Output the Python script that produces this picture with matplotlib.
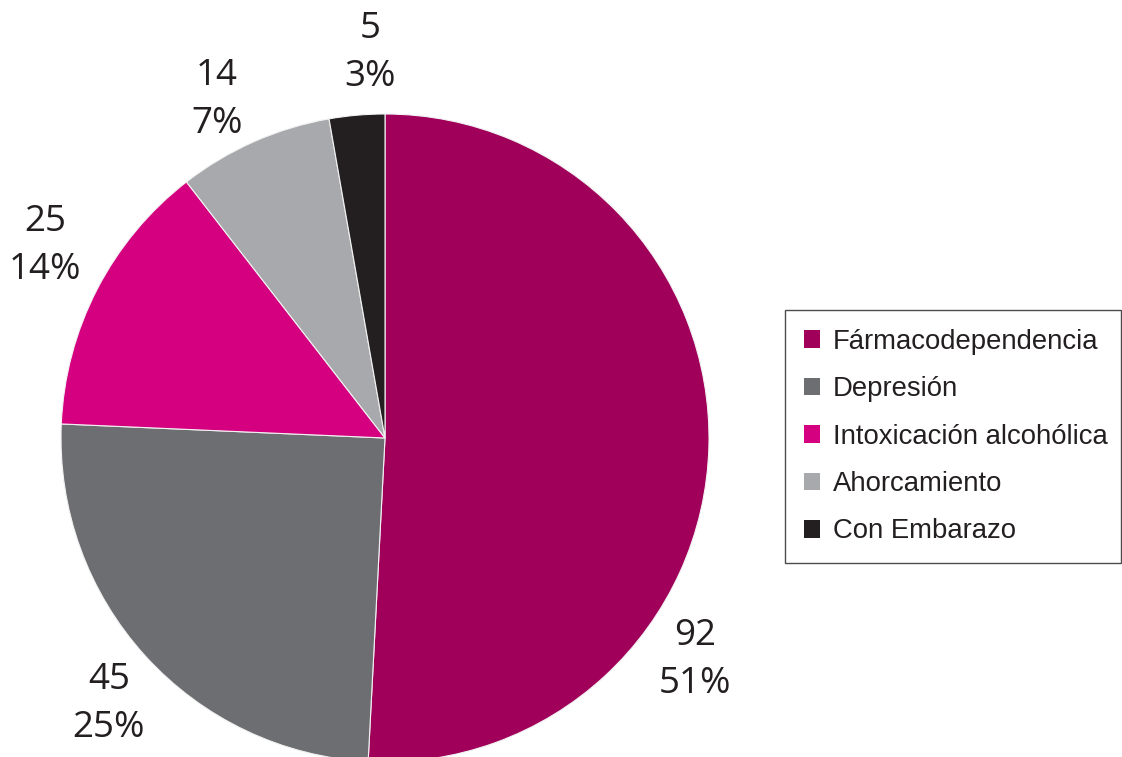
import matplotlib
matplotlib.use("Agg")
import matplotlib.pyplot as plt
from matplotlib.patches import Patch

categories = ["Fármacodependencia", "Depresión", "Intoxicación alcohólica",
              "Ahorcamiento", "Con Embarazo"]
counts = [92, 45, 25, 14, 5]
percent_labels = ["51%", "25%", "14%", "7%", "3%"]
colors = ["#A0005A", "#6D6E71", "#D5007F", "#A7A9AC", "#231F20"]

W, H = 1122, 757
fig = plt.figure(figsize=(W / 100, H / 100), dpi=100)
ax = fig.add_axes([0, 0, 1, 1])

wedges, texts = ax.pie(
    counts,
    colors=colors,
    startangle=90,
    counterclock=False,
    center=(385, H - 438),
    radius=324,
    labels=[f"{c}\n{p}" for c, p in zip(counts, percent_labels)],
    labeldistance=1.0,
    wedgeprops=dict(edgecolor="#F2F2F2", linewidth=0.8),
    textprops=dict(fontsize=26.5, family="Open Sans", color="#231F20",
                   linespacing=1.42, ha="center", va="center"),
    frame=True,
)
ax.set_axis_off()
ax.set_xlim(0, W)
ax.set_ylim(0, H)

# value/percentage labels placed outside each wedge
label_pos = [(695, 660), (109, 704), (45, 246), (217, 100), (370, 53)]
for t, (x, y) in zip(texts, label_pos):
    t.set_position((x, H - y))

handles = [Patch(facecolor=c, edgecolor="none") for c in colors]
leg = ax.legend(
    handles, categories,
    loc="upper left",
    bbox_to_anchor=(785 / W, 1 - 310 / H, (1121 - 785) / W, 0),
    mode="expand",
    prop=dict(family="Liberation Sans", size=19.8),
    frameon=True, fancybox=False,
    handlelength=0.6, handleheight=0.6, handletextpad=0.45,
    labelspacing=0.78, borderpad=0.68, borderaxespad=0,
)
frame = leg.get_frame()
frame.set_edgecolor("#231F20")
frame.set_linewidth(1.0)
for txt in leg.get_texts():
    txt.set_color("#231F20")

fig.savefig("out.png", dpi=100)
